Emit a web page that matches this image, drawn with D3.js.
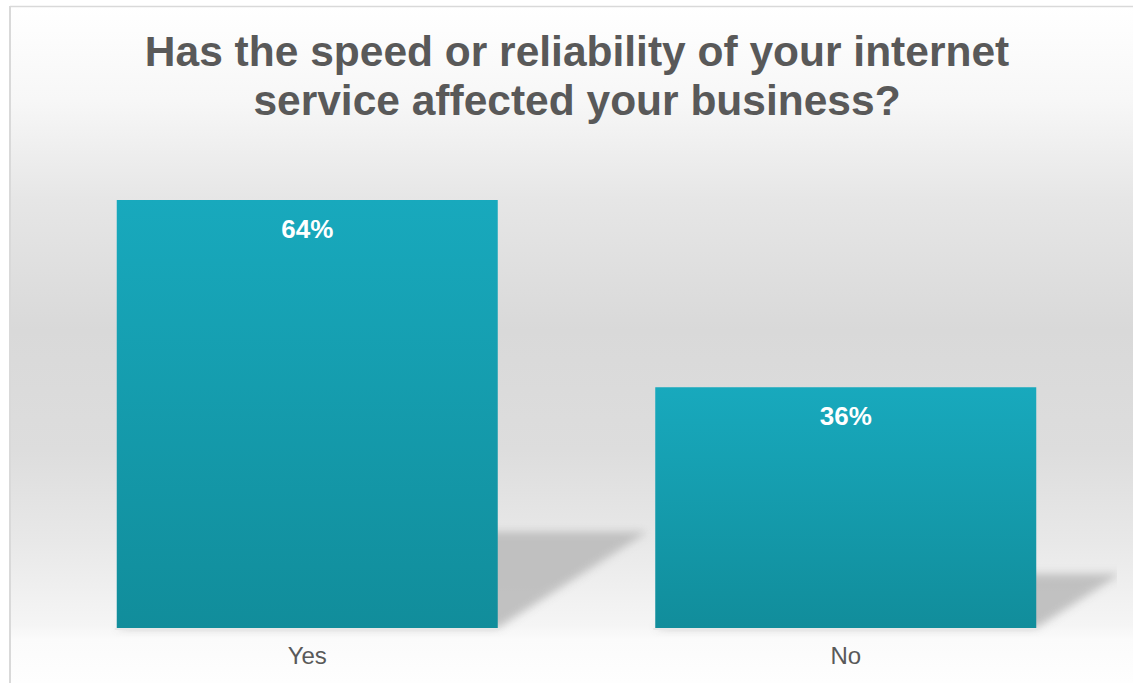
<!DOCTYPE html>
<html>
<head>
<meta charset="utf-8">
<script src="https://cdn.jsdelivr.net/npm/d3@7"></script>
<style>
  html, body { margin: 0; padding: 0; background: #ffffff; }
  svg { display: block; }
</style>
</head>
<body>
<svg id="chart" width="1133" height="683"></svg>
<script>
// Survey answers and their shares (percent)
const categories = ["Yes", "No"];
const values = [64, 36];
const titleLines = ["Has the speed or reliability of your internet", "service affected your business?"];

const W = 1133, H = 683;
const svg = d3.select("#chart");
const defs = svg.append("defs");

// Chart-area backdrop: soft vertical grey wash
const bg = defs.append("linearGradient")
  .attr("id", "bgGrad").attr("gradientUnits", "userSpaceOnUse")
  .attr("x1", 0).attr("y1", 6).attr("x2", 0).attr("y2", H);
[[6, "#ffffff"], [100, "#f7f7f7"], [200, "#e6e6e6"], [330, "#d9d9d9"], [450, "#dddddd"],
 [540, "#e8e8e8"], [625, "#f5f5f5"], [640, "#fbfbfb"], [683, "#fefefe"]]
  .forEach(([y, c]) => bg.append("stop").attr("offset", ((y - 6) / (H - 6))).attr("stop-color", c));

// Bar fill: teal, slightly darker toward the base
const barGrad = defs.append("linearGradient")
  .attr("id", "barGrad").attr("x1", 0).attr("y1", 0).attr("x2", 0).attr("y2", 1);
barGrad.append("stop").attr("offset", 0).attr("stop-color", "#18a9bd");
barGrad.append("stop").attr("offset", 1).attr("stop-color", "#118d9b");

const blur = defs.append("filter").attr("id", "shadowBlur")
  .attr("x", "-20%").attr("y", "-20%").attr("width", "140%").attr("height", "140%");
blur.append("feGaussianBlur").attr("stdDeviation", 4);

defs.append("clipPath").attr("id", "plotClip")
  .append("rect").attr("x", 11).attr("y", 7).attr("width", 1106).attr("height", 630);

svg.append("rect").attr("x", 10).attr("y", 6).attr("width", W - 10).attr("height", H - 6)
  .attr("fill", "url(#bgGrad)");

// Frame lines (top and left)
svg.append("line").attr("x1", 10).attr("x2", W).attr("y1", 6.5).attr("y2", 6.5)
  .attr("stroke", "#d9d9d9").attr("stroke-width", 1.5);
svg.append("line").attr("x1", 10).attr("x2", 10).attr("y1", 6).attr("y2", H)
  .attr("stroke", "#d9d9d9").attr("stroke-width", 2);

// Title
const title = svg.append("text")
  .attr("text-anchor", "middle")
  .attr("font-family", "Liberation Sans, Arial, sans-serif")
  .attr("font-weight", "bold").attr("font-size", 42.5).attr("fill", "#595959");
titleLines.forEach((t, i) => {
  title.append("tspan").attr("x", 577).attr("y", 66 + i * 49).text(t);
});

// Scales
const baseY = 628;
const x = d3.scaleBand().domain(categories).range([38, 1115]).paddingInner(0.2925).paddingOuter(0.14625);
const y = d3.scaleLinear().domain([0, 64]).range([baseY, 200]);

const plot = svg.append("g").attr("clip-path", "url(#plotClip)");

// Floor shadows cast to the right of each bar
const shadowRiseRatio = 0.225, shadowRunRatio = 0.35;
plot.selectAll("path.shadow").data(values).join("path")
  .attr("class", "shadow")
  .attr("fill", "#bcbcbc").attr("opacity", 0.9)
  .attr("filter", "url(#shadowBlur)")
  .attr("d", (v, i) => {
    const c = categories[i];
    const x0 = x(c), x1 = x(c) + x.bandwidth();
    const h = baseY - y(v);
    const rise = h * shadowRiseRatio, run = h * shadowRunRatio;
    return `M${x0},${baseY} L${x1},${baseY} L${x1 + run},${baseY - rise} L${x0 + run},${baseY - rise} Z`;
  });

// Faint floor edge under the bars
plot.selectAll("rect.floor").data(values).join("rect")
  .attr("class", "floor")
  .attr("x", (v, i) => x(categories[i]) - 2)
  .attr("width", x.bandwidth() + 4)
  .attr("y", baseY).attr("height", 2)
  .attr("fill", "#e8e8e8");

// Bars
plot.selectAll("rect.bar").data(values).join("rect")
  .attr("class", "bar")
  .attr("x", (v, i) => x(categories[i]))
  .attr("width", x.bandwidth())
  .attr("y", v => y(v))
  .attr("height", v => baseY - y(v))
  .attr("fill", "url(#barGrad)");

// Value labels inside bar tops
svg.selectAll("text.val").data(values).join("text")
  .attr("class", "val")
  .attr("x", (v, i) => x(categories[i]) + x.bandwidth() / 2)
  .attr("y", v => y(v) + 38)
  .attr("text-anchor", "middle")
  .attr("font-family", "Liberation Sans, Arial, sans-serif")
  .attr("font-weight", "bold").attr("font-size", 26).attr("fill", "#ffffff")
  .text(v => v + "%");

// Category axis labels
const xAxis = d3.axisBottom(x).tickSize(0).tickPadding(0);
const gx = svg.append("g").attr("transform", `translate(0,${baseY})`).call(xAxis);
gx.select(".domain").remove();
gx.selectAll("text")
  .attr("y", 36).attr("dy", 0)
  .attr("font-family", "Liberation Sans, Arial, sans-serif")
  .attr("font-size", 24).attr("fill", "#595959");
</script>
</body>
</html>
